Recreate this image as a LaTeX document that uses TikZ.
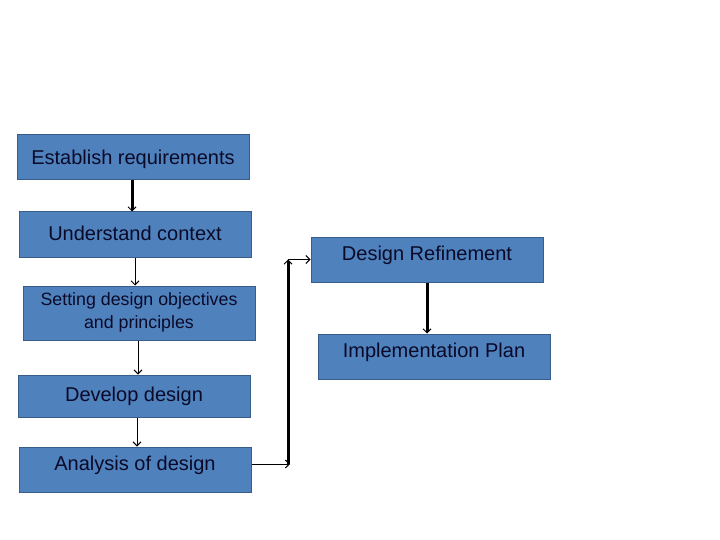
\documentclass[tikz,border=0pt]{standalone}
\usepackage{fontspec}
\setmainfont{Liberation Sans}
\usetikzlibrary{arrows.meta}

\definecolor{boxfill}{HTML}{4F81BD}
\definecolor{boxline}{HTML}{385D8A}
\definecolor{boxtext}{HTML}{0A0A28}

\tikzset{
  stepbox/.style={draw=boxline, line width=1pt, fill=boxfill, text=boxtext,
    minimum width=232pt, minimum height=45pt, inner sep=0pt, align=center,
    font=\fontsize{20}{22}\selectfont, text depth=3pt},
  thinflow/.style={line width=1pt, -{Straight Barb[length=4pt,width=8pt]}},
  thickflow/.style={line width=3pt, -{Straight Barb[length=4pt,width=8pt,line width=1pt]}}
}

\begin{document}
\begin{tikzpicture}[x=1pt,y=-1pt]

% Page frame
\useasboundingbox (0,0) rectangle (720,540);

% Left column of steps
\node[stepbox, text depth=1pt] (est) at (133,157.5) {Establish requirements};
\node[stepbox] (ctx) at (135,234.5) {Understand context};
\node[stepbox, minimum height=54pt, font=\fontsize{17.8}{23}\selectfont, text depth=4pt] (obj) at (139,313) {Setting design objectives\\and principles};
\node[stepbox, minimum height=42pt, text depth=4pt] (dev) at (134,396) {Develop design};
\node[stepbox, text depth=13pt] (ana) at (135,469.5) {Analysis of design};

% Right column
\node[stepbox, text depth=13pt] (ref) at (427,259.5) {Design Refinement};
\node[stepbox, text depth=13pt] (imp) at (434,356.5) {Implementation Plan};

% Joints of the feedback line
\coordinate (j1) at (290,464);
\coordinate (j2) at (288,259.5);

% Flow down the left column
\draw[thickflow] ([xshift=-1pt]est.south) -- ([xshift=-1pt]est.south |- ctx.north);
\draw[thinflow] (ctx.south) -- (ctx.south |- obj.north);
\draw[thinflow] ([xshift=-1pt]obj.south) -- ([xshift=-1pt]obj.south |- dev.north);
\draw[thinflow] ([xshift=3pt]dev.south) -- ([xshift=3pt]dev.south |- ana.north);

% Over to the right column
\draw[thinflow] (ana.east |- j1) -- (j1);
\draw[thickflow] (j2 |- j1) -- (j2);
\draw[thinflow] (j2) -- (ref.west);
\draw[thickflow] (ref.south) -- (ref.south |- imp.north);

\end{tikzpicture}
\end{document}
